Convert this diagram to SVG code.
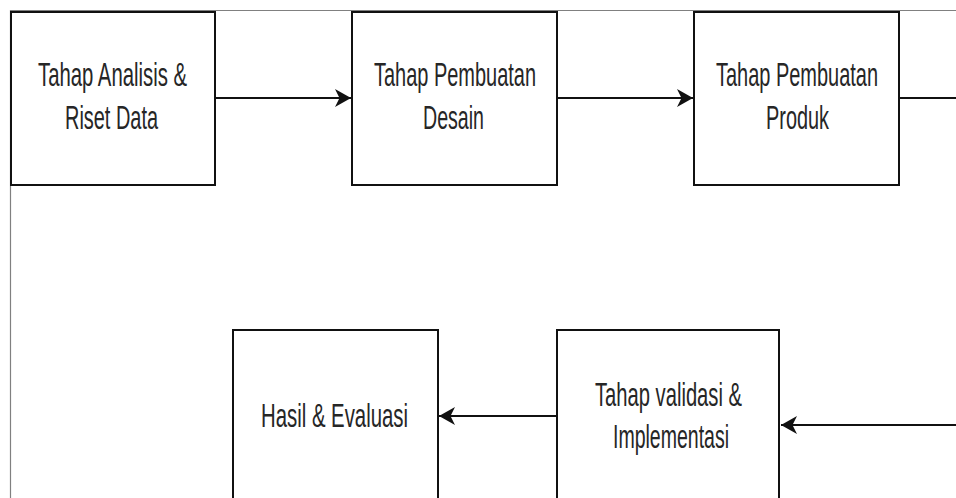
<svg xmlns="http://www.w3.org/2000/svg" width="956" height="498" viewBox="0 0 956 498">
<defs>
<style>
.box{fill:#ffffff;stroke:#111111;stroke-width:2}
.frame{stroke:#808080;stroke-width:1.2;fill:none}
.edge{stroke:#111111;stroke-width:2.2;fill:none}
.lbl{font-family:"Liberation Sans",Arial,sans-serif;font-size:20px;fill:#262626;text-anchor:middle}
</style>
<marker id="arr" markerUnits="userSpaceOnUse" markerWidth="17" markerHeight="18" refX="16" refY="9" orient="auto" viewBox="0 0 17 18">
<path d="M0,0 L16,9 L0,18 L4.5,9 Z" fill="#111111"/>
</marker>
</defs>
<rect width="956" height="498" fill="#ffffff"/>
<g id="frame">
<line class="frame" x1="10" y1="10.5" x2="956" y2="10.5"/>
<line class="frame" x1="10.5" y1="10" x2="10.5" y2="498"/>
</g>
<g id="connectors">
<line class="edge" x1="215" y1="98" x2="351" y2="98" marker-end="url(#arr)"/>
<line class="edge" x1="557" y1="98" x2="693" y2="98" marker-end="url(#arr)"/>
<line class="edge" x1="900" y1="98" x2="956" y2="98"/>
<line class="edge" x1="956" y1="425" x2="781" y2="425" marker-end="url(#arr)"/>
<line class="edge" x1="557" y1="416" x2="439" y2="416" marker-end="url(#arr)"/>
</g>
<g id="n1">
<rect class="box" x="11" y="12" width="204" height="173"/>
<text class="lbl" transform="translate(112.5,86) scale(1,1.65)" textLength="149" lengthAdjust="spacingAndGlyphs">Tahap Analisis &amp;</text>
<text class="lbl" transform="translate(111.5,129) scale(1,1.65)" textLength="93" lengthAdjust="spacingAndGlyphs">Riset Data</text>
</g>
<g id="n2">
<rect class="box" x="352" y="12" width="205" height="173"/>
<text class="lbl" transform="translate(455,86) scale(1,1.65)" textLength="162" lengthAdjust="spacingAndGlyphs">Tahap Pembuatan</text>
<text class="lbl" transform="translate(453.5,129) scale(1,1.65)" textLength="61" lengthAdjust="spacingAndGlyphs">Desain</text>
</g>
<g id="n3">
<rect class="box" x="694" y="12" width="205" height="173"/>
<text class="lbl" transform="translate(797,86) scale(1,1.65)" textLength="162" lengthAdjust="spacingAndGlyphs">Tahap Pembuatan</text>
<text class="lbl" transform="translate(797.5,129) scale(1,1.65)" textLength="63" lengthAdjust="spacingAndGlyphs">Produk</text>
</g>
<g id="n4">
<rect class="box" x="233" y="330" width="205" height="180"/>
<text class="lbl" transform="translate(334.5,427) scale(1,1.65)" textLength="147" lengthAdjust="spacingAndGlyphs">Hasil &amp; Evaluasi</text>
</g>
<g id="n5">
<rect class="box" x="557" y="330" width="222" height="180"/>
<text class="lbl" transform="translate(668.5,406) scale(1,1.65)" textLength="147" lengthAdjust="spacingAndGlyphs">Tahap validasi &amp;</text>
<text class="lbl" transform="translate(671,448) scale(1,1.65)" textLength="116" lengthAdjust="spacingAndGlyphs">Implementasi</text>
</g>
</svg>
